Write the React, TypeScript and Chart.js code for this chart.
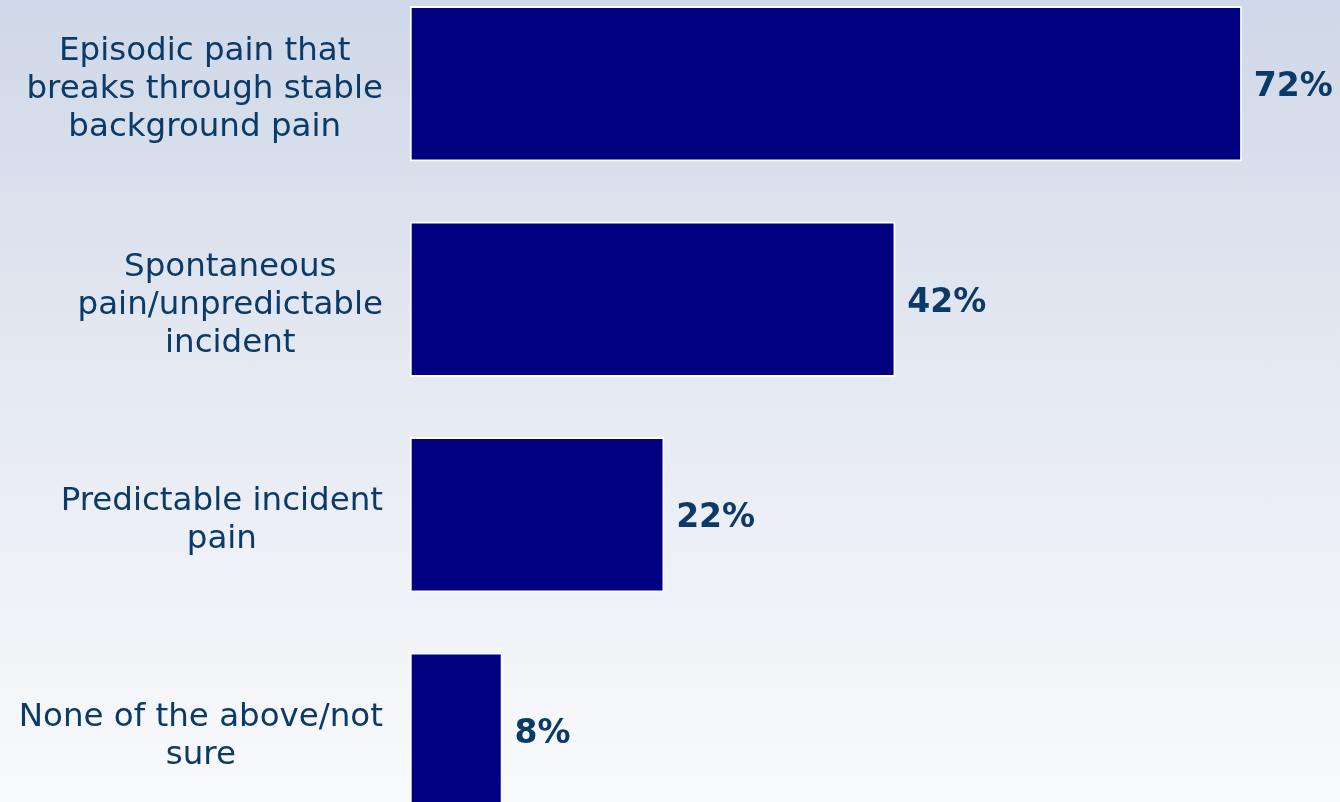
import React, { useEffect, useRef } from "react";
import { Chart, registerables } from "chart.js";

Chart.register(...registerables);

const categories: string[][] = [
  ["Episodic pain that", "breaks through stable", "background pain"],
  ["Spontaneous", "pain/unpredictable", "incident"],
  ["Predictable incident", "pain"],
  ["None of the above/not", "sure"],
];
const values: number[] = [72, 42, 22, 8];
const valueLabels: string[] = values.map((v) => v + "%");

const TEXT_COLOR = "#0b3a68";
const FONT_FAMILY = "'DejaVu Sans', Verdana, sans-serif";

const labelPlugin = {
  id: "customLabels",
  afterDatasetsDraw(chart: any) {
    const ctx = chart.ctx;
    const meta = chart.getDatasetMeta(0);
    const yScale = chart.scales.y;
    ctx.save();
    // value labels
    ctx.font = `bold 33px ${FONT_FAMILY}`;
    ctx.fillStyle = TEXT_COLOR;
    ctx.textAlign = "left";
    ctx.textBaseline = "middle";
    meta.data.forEach((bar: any, i: number) => {
      ctx.fillText(valueLabels[i], bar.x + 12, bar.y + 4);
    });
    // category labels
    ctx.font = `32.5px ${FONT_FAMILY}`;
    const lineH = 38;
    const rightEdge = 383;
    categories.forEach((lines, i) => {
      const cy = yScale.getPixelForValue(i);
      const w = Math.max(...lines.map((l) => ctx.measureText(l).width));
      const cx = rightEdge - w / 2;
      ctx.textAlign = "center";
      const startY = cy - ((lines.length - 1) * lineH) / 2 + 6;
      lines.forEach((l, j) => {
        ctx.fillText(l, cx, startY + j * lineH);
      });
    });
    ctx.restore();
  },
};

export default function App() {
  const canvasRef = useRef<HTMLCanvasElement | null>(null);

  useEffect(() => {
    document.body.style.margin = "0";
    const canvas = canvasRef.current;
    if (!canvas) return;
    const chart = new Chart(canvas, {
      type: "bar",
      data: {
        labels: categories.map((c) => c.join(" ")),
        datasets: [
          {
            data: values,
            backgroundColor: "#000080",
            borderColor: "#ffffff",
            borderWidth: 2,
            borderSkipped: false,
            barThickness: 155,
          },
        ],
      },
      options: {
        indexAxis: "y",
        responsive: false,
        animation: false,
        layout: { padding: { left: 410, right: 0, top: 0, bottom: 0 } },
        plugins: {
          legend: { display: false },
          tooltip: { enabled: false },
        },
        scales: {
          x: { display: false, min: 0, max: 80.5 },
          y: { display: false },
        },
      },
      plugins: [labelPlugin],
    });
    return () => chart.destroy();
  }, []);

  return (
    <div
      style={{
        position: "relative",
        width: 1340,
        height: 802,
        overflow: "hidden",
        background: "linear-gradient(to bottom, #cfd8e8 0%, #e6eaf2 50%, #f9fafc 100%)",
      }}
    >
      <canvas
        ref={canvasRef}
        width={1340}
        height={862}
        style={{ position: "absolute", left: 0, top: -24, width: 1340, height: 862 }}
      />
    </div>
  );
}
